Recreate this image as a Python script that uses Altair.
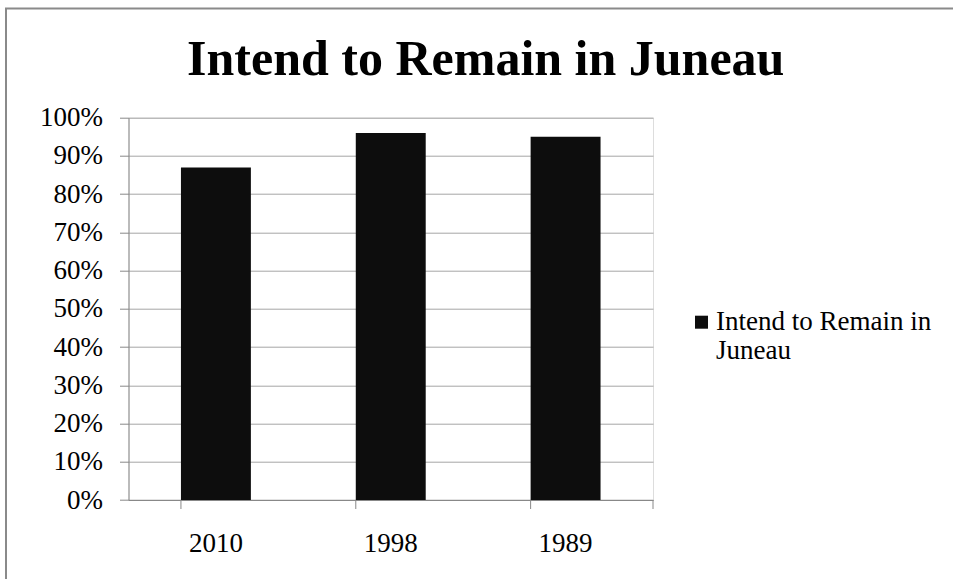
import altair as alt
import pandas as pd

years = ["2010", "1998", "1989"]
values = [0.87, 0.96, 0.95]
series = ["Intend to Remain in Juneau"] * 3
title_text = "Intend to Remain in Juneau"

df = pd.DataFrame({"year": years, "value": values, "series": series})

W, H = 524.5, 382.3
FONT = "Liberation Serif"
GRID = "#a6a6a6"
AX = "#888888"

xscale = alt.Scale(paddingInner=0.6, paddingOuter=0.3)
xaxis = alt.Axis(title=None, labelAngle=0, ticks=False, tickSize=0, labelPadding=30,
                 domainColor=AX, labelFont=FONT, labelFontSize=27, labelColor="black",
                 grid=False)

bars = alt.Chart(df).mark_bar(color="#0d0d0d").encode(
    x=alt.X("year:N", sort=years, scale=xscale, axis=xaxis),
    y=alt.Y("value:Q", scale=alt.Scale(domain=[0, 1], nice=False),
            axis=alt.Axis(title=None, format="%", values=[i / 10 for i in range(11)],
                          tickSize=9, tickColor=AX, domainColor=AX, gridColor=GRID,
                          labelPadding=17, labelFont=FONT, labelFontSize=27,
                          labelColor="black")),
    color=alt.Color("series:N", scale=alt.Scale(range=["#0d0d0d"]),
                    legend=alt.Legend(title=None, orient="none", legendX=559.5, legendY=191,
                                      padding=0, symbolType="square", symbolSize=169,
                                      symbolStrokeWidth=0, labelFont=FONT, labelFontSize=27,
                                      labelColor="black", labelOffset=1, labelLimit=400,
                                      labelExpr="['Intend to Remain in', 'Juneau']")),
)

ticks = alt.Chart(df).mark_rule(color=AX, strokeWidth=1).encode(
    x=alt.X("year:N", sort=years, scale=xscale, axis=xaxis, bandPosition=0),
    y=alt.value(H),
    y2=alt.value(H + 9),
)
end_tick = alt.Chart(pd.DataFrame({"a": [0]})).mark_rule(color=AX, strokeWidth=1).encode(
    x=alt.value(W), y=alt.value(H), y2=alt.value(H + 9),
)
frame = alt.Chart(pd.DataFrame({"a": [0]})).mark_rect(
    fill="white", fillOpacity=0, stroke="#8a8a8a", strokeWidth=2
).encode(
    x=alt.value(-122.5), y=alt.value(-109.2), x2=alt.value(900), y2=alt.value(520),
)

chart = alt.layer(frame, bars, ticks, end_tick).properties(
    width=W, height=H,
    title=alt.TitleParams(title_text, font=FONT, fontSize=50, fontWeight="bold",
                          color="black", anchor="middle", frame="group", dx=95,
                          baseline="alphabetic", offset=-117.5),
    autosize=alt.AutoSizeParams(type="none"),
    padding={"left": 128.5, "top": 117.7, "right": 300, "bottom": 79},
).configure_view(stroke=None).configure(background="white")

chart.save("out.html", embed_options={"renderer": "svg", "actions": False})
